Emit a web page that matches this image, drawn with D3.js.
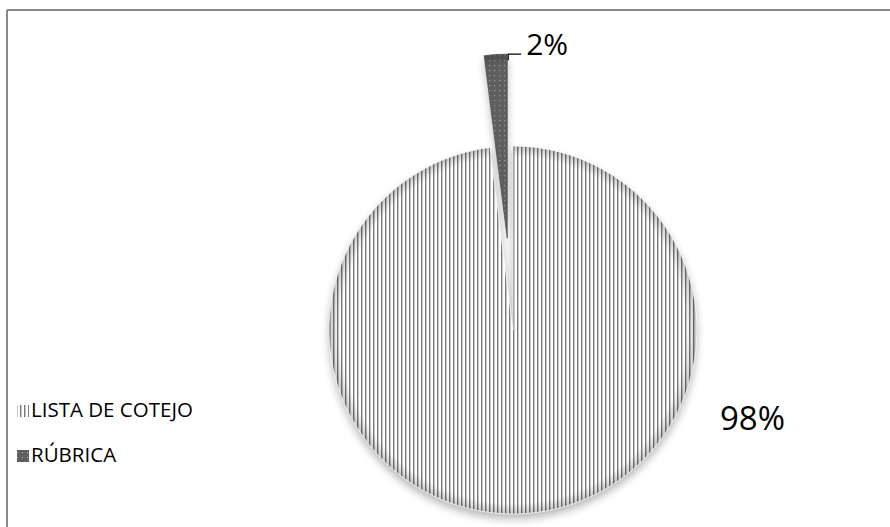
<!DOCTYPE html>
<html>
<head>
<meta charset="utf-8">
<script src="https://cdn.jsdelivr.net/npm/d3@7"></script>
<style>
  html, body { margin: 0; padding: 0; background: #fff; }
  svg { display: block; }
  text { font-family: "Open Sans", "Noto Sans", sans-serif; fill: #000; }
</style>
</head>
<body>
<svg id="chart" width="890" height="527"></svg>
<script>
// ---- data ----
const categories = ["LISTA DE COTEJO", "RÚBRICA"];
const values = [98, 2];
const labels = ["98%", "2%"];

// ---- layout ----
const W = 890, H = 527;
const cx = 513, cy = 330, R = 184;
const explode = [0, 92];
const baseColors = ["#ffffff", "#5f5f5f"];
const edgeColors = ["#ffffff", "#4a4a4a"];

const svg = d3.select("#chart");
const defs = svg.append("defs");

// vertical stripe overlay
const pStripe = defs.append("pattern").attr("id", "stripes")
  .attr("patternUnits", "userSpaceOnUse").attr("width", 4).attr("height", 4);
pStripe.append("rect").attr("x", 0).attr("width", 1).attr("height", 4).attr("fill", "#7a7a7a");
pStripe.append("rect").attr("x", 1).attr("width", 1).attr("height", 4).attr("fill", "#c4c4c4");

// dots overlay
const pDots = defs.append("pattern").attr("id", "dots")
  .attr("patternUnits", "userSpaceOnUse").attr("width", 5).attr("height", 5);
pDots.append("rect").attr("x", 2).attr("y", 2).attr("width", 1).attr("height", 1).attr("fill", "#b8b8b8");

// rim shading
const rg = defs.append("radialGradient").attr("id", "rim")
  .attr("gradientUnits", "userSpaceOnUse").attr("cx", 0).attr("cy", 0).attr("r", R);
rg.append("stop").attr("offset", "0.94").attr("stop-color", "#000").attr("stop-opacity", 0);
rg.append("stop").attr("offset", "1").attr("stop-color", "#000").attr("stop-opacity", 0.22);

// shadow
const f = defs.append("filter").attr("id", "shadow")
  .attr("x", "-50%").attr("y", "-20%").attr("width", "200%").attr("height", "140%");
f.append("feGaussianBlur").attr("stdDeviation", 4);

// border (top and left only visible)
svg.append("line").attr("x1", 7).attr("y1", 10).attr("x2", W).attr("y2", 10)
  .attr("stroke", "#898989").attr("stroke-width", 2);
svg.append("line").attr("x1", 7).attr("y1", 10).attr("x2", 7).attr("y2", H)
  .attr("stroke", "#898989").attr("stroke-width", 2);

const pie = d3.pie().sort(null).startAngle(0).endAngle(2 * Math.PI);
const arcs = pie(values);
const arc = d3.arc().innerRadius(0).outerRadius(R);
const overlays = ["url(#stripes)", "url(#dots)"];

function offset(d, i) {
  const a = (d.startAngle + d.endAngle) / 2;
  return [Math.sin(a) * explode[i], -Math.cos(a) * explode[i]];
}

const gs = svg.append("g").attr("transform", `translate(${cx},${cy})`)
  .selectAll("g").data(arcs).join("g")
  .attr("transform", (d, i) => { const o = offset(d, i); return `translate(${o[0]},${o[1]})`; });

// shadow
gs.append("path").attr("d", arc).attr("transform", "translate(0,5)")
  .attr("fill", "#000").attr("opacity", 0.28).attr("filter", "url(#shadow)");
// base
gs.append("path").attr("d", arc).attr("fill", (d, i) => baseColors[i]);
// texture
gs.append("path").attr("d", arc).attr("fill", (d, i) => overlays[i]);
// rim
gs.append("path").attr("d", arc).attr("fill", "url(#rim)")
  .attr("stroke", (d, i) => edgeColors[i]).attr("stroke-width", 0.7);

// 98% label
svg.append("text").attr("x", cx + 207).attr("y", cy + 100)
  .attr("font-size", 33).text(labels[0]);

// 2% label with leader
{
  const d = arcs[1], o = offset(d, 1);
  const px = Math.sin(d.endAngle) * R + o[0] + cx;
  const py = -Math.cos(d.endAngle) * R + o[1] + cy;
  svg.append("path")
    .attr("d", `M${px + 1},${py + 6}L${px + 1},${py}L${px + 14},${py}`)
    .attr("fill", "none").attr("stroke", "#000").attr("stroke-width", 1.2);
  svg.append("text").attr("x", px + 19).attr("y", py + 1)
    .attr("font-size", 30).text(labels[1]);
}

// legend
const leg = svg.append("g");
const legY = [417, 462];
categories.forEach((c, i) => {
  leg.append("rect").attr("x", 17).attr("y", legY[i] - 12).attr("width", 12).attr("height", 12)
    .attr("fill", baseColors[i]);
  leg.append("rect").attr("x", 17).attr("y", legY[i] - 12).attr("width", 12).attr("height", 12)
    .attr("fill", overlays[i]);
  leg.append("text").attr("x", 31).attr("y", legY[i]).attr("font-size", 20.5).text(c);
});
</script>
</body>
</html>
